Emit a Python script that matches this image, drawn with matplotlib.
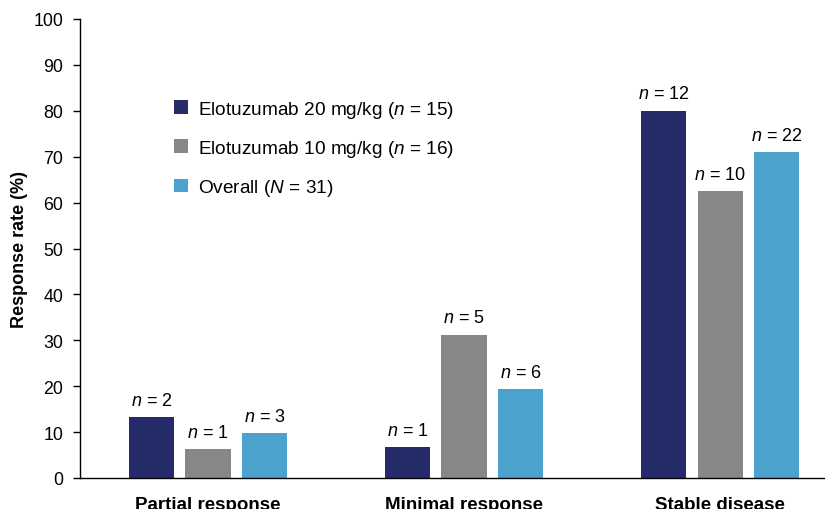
import matplotlib
matplotlib.use("Agg")
import matplotlib.pyplot as plt
import numpy as np

plt.rcParams['font.family'] = ['Liberation Sans', 'DejaVu Sans']
plt.rcParams['mathtext.fontset'] = 'custom'
plt.rcParams['mathtext.rm'] = 'Liberation Sans'
plt.rcParams['mathtext.it'] = 'Liberation Sans:italic'

categories = ["Partial response", "Minimal response", "Stable disease"]
series_names = ["Elotuzumab 20 mg/kg ($n$ = 15)",
                "Elotuzumab 10 mg/kg ($n$ = 16)",
                "Overall ($N$ = 31)"]
values_20 = [13.3, 6.7, 80.0]
values_10 = [6.25, 31.25, 62.5]
values_all = [9.7, 19.4, 71.0]
counts_20 = [2, 1, 12]
counts_10 = [1, 5, 10]
counts_all = [3, 6, 22]
colors = ["#252A69", "#878787", "#4BA3CD"]

fig = plt.figure(figsize=(8.25, 5.1), dpi=100)
ax = fig.add_axes([80/825, 1-479/510, 1-80/825, (479-20)/510])

x = np.arange(len(categories))
width = 0.176
offset = 0.221
all_vals = [values_20, values_10, values_all]
all_counts = [counts_20, counts_10, counts_all]
for i, (vals, cnts, col, name) in enumerate(zip(all_vals, all_counts, colors, series_names)):
    pos = x + (i - 1) * offset
    ax.bar(pos, vals, width, color=col, label=name)
    for p, v, c in zip(pos, vals, cnts):
        ax.annotate(f"$n$ = {c}", (p, v), xytext=(0, 6), textcoords="offset points",
                    ha="center", va="bottom", fontsize=13)

ax.set_xlim(-0.5, 2.41)
ax.set_ylim(0, 100)
ax.set_yticks(np.arange(0, 101, 10))
ax.tick_params(axis='y', labelsize=12.8, length=5, width=1, direction='out', pad=7)
ax.set_xticks(x)
ax.set_xticklabels(categories, fontsize=13.5, fontweight='bold')
ax.tick_params(axis='x', length=0, pad=13)
for s in ['top', 'right']:
    ax.spines[s].set_visible(False)
ax.spines['left'].set_linewidth(1)
ax.spines['bottom'].set_linewidth(1)
ax.set_ylabel("Response rate (%)", fontsize=13, fontweight='bold', labelpad=4)

leg = ax.legend(loc='upper left', bbox_to_anchor=(174/825, 1-100/510), bbox_transform=fig.transFigure,
                frameon=False, fontsize=13.7, handlelength=0.75, handleheight=0.75,
                handletextpad=0.53, labelspacing=0.95, borderpad=0, borderaxespad=0)

fig.savefig("out.png", dpi=100)
